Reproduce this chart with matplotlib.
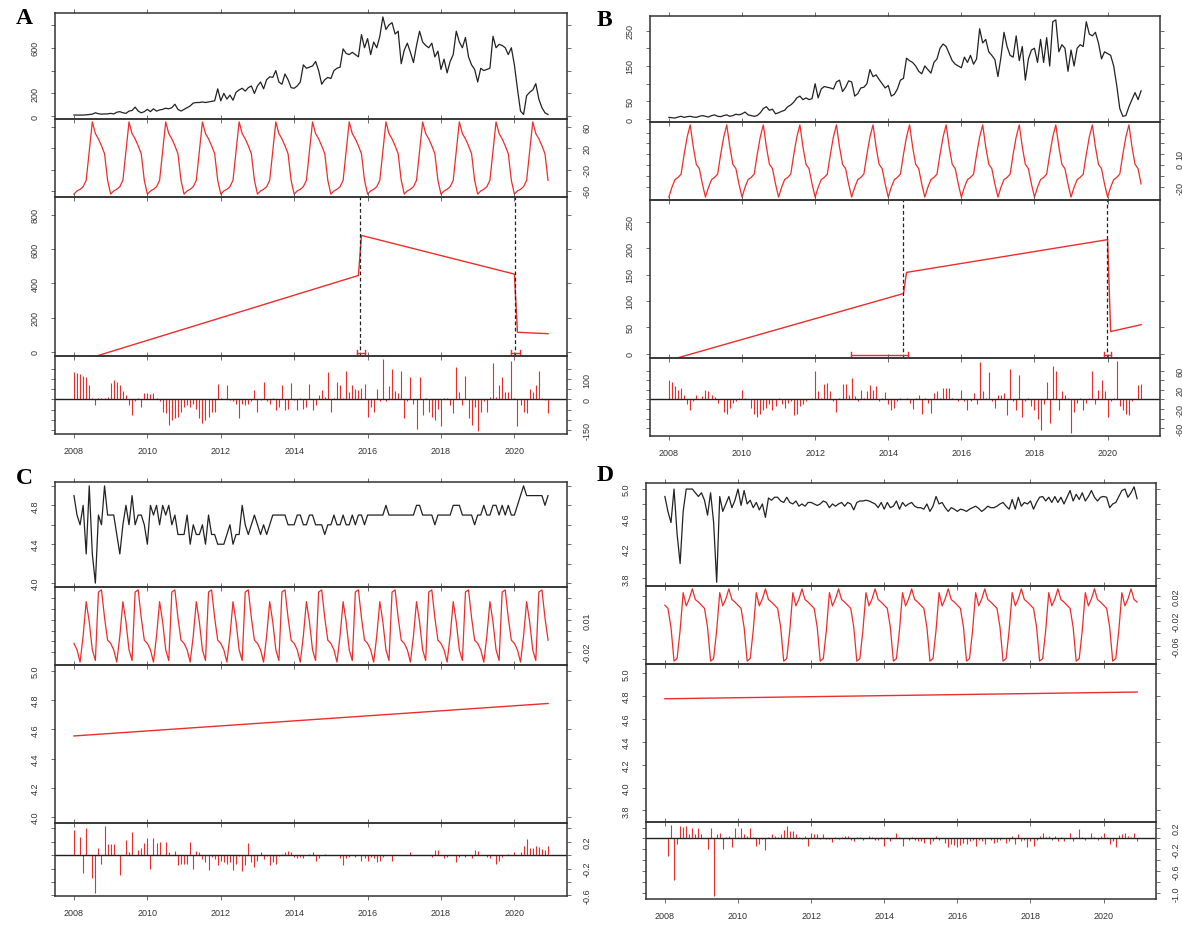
import numpy as np
import matplotlib.pyplot as plt

W, H = 1182, 929
RED = '#EE2C2C'
INK = '#222222'

months = np.arange(156)
t = 2008 + months / 12.0
years = [2008, 2010, 2012, 2014, 2016, 2018, 2020]

# ---------------- panel A ----------------
a_data = [10, 10, 10, 10, 12, 15, 18, 30, 22, 18, 20, 20,
          25, 20, 35, 40, 30, 25, 45, 50, 80, 45, 30, 40,
          60, 40, 65, 45, 55, 60, 70, 65, 75, 105, 60, 45,
          60, 75, 90, 115, 120, 120, 125, 120, 125, 130, 135, 240,
          135, 200, 150, 185, 140, 210, 230, 245, 220, 250, 265, 200,
          265, 300, 240, 320, 345, 340, 400, 300, 280, 370, 320, 250,
          245, 265, 300, 450, 420, 430, 440, 480, 400, 280, 320, 340,
          330, 400, 420, 430, 590, 550, 540, 560, 540, 520, 715, 600,
          680, 540, 650, 600, 700, 870, 760, 800, 820, 720, 745, 460,
          580, 640, 560, 470, 620, 745, 650, 620, 600, 640, 520, 570,
          410, 500, 380, 480, 540, 745, 650, 600, 690, 520, 450, 410,
          300, 420, 400, 410, 420, 700, 600, 630, 620, 600, 540, 600,
          450, 240, 45, 15, 180, 210, 230, 285, 150, 75, 30, 15]
a_season = [-66, -60, -57, -52, -40, 15, 70, 48, 38, 25, 10, -40]
a_trend_t = [2008.0, 2015.75, 2015.833, 2020.0, 2020.083, 2020.917]
a_trend_v = [-65, 446, 680, 454, 114, 106]
a_resid = [137, 130, 125, 118, 110, 70, 5, -27, 5, 8, 5, 10,
           80, 95, 85, 70, 40, 20, -27, -75, -10, 5, -35, 30,
           30, 25, 32, 5, -10, -60, -68, -125, -100, -92, -85, -60,
           -35, -27, -35, -20, -45, -92, -115, -100, -85, -60, -60, 78,
           5, 0, 70, -3, -10, -20, -92, -20, -27, -20, -10, 45,
           -60, -3, 85, -10, -20, 5, -50, -35, 70, -50, -45, 82,
           -3, -50, 5, -45, -35, 77, -50, -27, 20, 45, 12, 134,
           -60, 5, 85, 70, 5, 140, 35, 70, 50, 45, 55, 77,
           -85, -35, -60, 53, -10, 200, -10, 66, 150, 40, 30, 142,
           -92, -10, 110, -20, -148, 110, -75, 5, -60, -85, -100, -45,
           -130, 5, 5, -27, -68, 158, 37, -27, 118, -92, -125, -35,
           -156, -60, -10, -60, 13, 180, 13, 70, 110, 37, 37, 190,
           5, -132, -27, -60, -68, 53, 37, 70, 142, 5, -3, -68]
a_breaks = [2015.80, 2020.02]
a_ci = [(2015.70, 2015.94), (2019.92, 2020.15)]

# ---------------- panel B ----------------
b_data = [5, 4, 3, 6, 8, 5, 7, 8, 6, 5, 8, 10,
          8, 6, 10, 12, 8, 7, 10, 12, 8, 10, 14, 12,
          15, 20, 12, 10, 8, 10, 18, 30, 35, 25, 28, 15,
          18, 22, 25, 35, 40, 48, 60, 65, 55, 60, 55, 58,
          100, 60, 85, 92, 90, 88, 85, 105, 110, 78, 90, 108,
          105, 65, 72, 88, 90, 100, 140, 120, 125, 112, 100, 88,
          95, 65, 70, 85, 110, 115, 172, 165, 160, 150, 135, 128,
          150, 140, 130, 160, 170, 200, 212, 205, 185, 165, 155, 150,
          145, 175, 160, 180, 155, 170, 255, 215, 225, 190, 180, 168,
          120, 175, 245, 205, 180, 175, 235, 165, 205, 110, 170, 195,
          200, 160, 225, 160, 230, 150, 275, 280, 190, 210, 200, 135,
          195, 150, 200, 210, 205, 275, 240, 235, 245, 215, 170, 190,
          185, 180, 150, 95, 30, 8, 10, 35, 55, 75, 55, 80]
b_season = [-29, -20, -13, -11, -8, 10, 26, 37, 17, 1, -3, -17]
b_trend_t = [2008.0, 2014.417, 2014.5, 2020.0, 2020.083, 2020.917]
b_trend_v = [-12.5, 114, 154, 216, 42, 55]
b_resid = [40, 37, 27, 20, 23, 10, -10, -23, -3, 10, 0, 7,
           20, 18, 10, 5, -7, 0, -27, -30, -17, -7, -3, 3,
           20, 3, 0, -17, -30, -37, -30, -23, -17, -10, -23, -13,
           3, -10, -17, -7, -3, -33, -30, -13, -10, -3, 0, 3,
           60, 17, 3, 33, 35, 17, -3, -27, 3, 33, 33, 10,
           45, 7, -3, 20, 3, 17, 30, 20, 27, -3, 3, 15,
           -10, -23, -17, -3, 3, 0, 3, -7, -20, 3, 10, -30,
           3, -7, -29, 13, 17, 3, 23, 23, 23, 3, 0, -3,
           20, -3, -23, -3, 13, -10, 77, 18, 3, 57, -3, -17,
           10, 10, 13, -33, 64, -3, -23, 50, -37, -3, 3, -13,
           -23, -40, -64, -10, 37, -50, 70, 60, -23, 17, 10, 3,
           -70, -27, -7, 3, -23, -7, 3, 60, -10, 20, 40, 17,
           -37, -3, 3, 80, -13, -23, -30, -33, -3, 0, 30, 33]
b_breaks = [2014.40, 2019.97]
b_ci = [(2012.97, 2014.54), (2019.89, 2020.10)]

# ---------------- panel C ----------------
c_data = [4.9, 4.7, 4.6, 4.8, 4.3, 5.0, 4.3, 4.0, 4.7, 4.6, 5.0, 4.7,
          4.7, 4.7, 4.5, 4.3, 4.6, 4.8, 4.6, 4.9, 4.6, 4.7, 4.7, 4.6,
          4.4, 4.8, 4.7, 4.8, 4.6, 4.8, 4.7, 4.8, 4.6, 4.7, 4.5, 4.5,
          4.5, 4.7, 4.4, 4.6, 4.5, 4.5, 4.6, 4.4, 4.7, 4.5, 4.5, 4.4,
          4.4, 4.4, 4.5, 4.6, 4.4, 4.5, 4.5, 4.8, 4.6, 4.5, 4.6, 4.7,
          4.6, 4.5, 4.6, 4.5, 4.6, 4.7, 4.7, 4.7, 4.7, 4.7, 4.6, 4.6,
          4.6, 4.7, 4.7, 4.6, 4.6, 4.7, 4.7, 4.6, 4.6, 4.6, 4.5, 4.6,
          4.6, 4.7, 4.6, 4.6, 4.7, 4.6, 4.6, 4.7, 4.6, 4.7, 4.7, 4.6,
          4.7, 4.7, 4.7, 4.7, 4.7, 4.7, 4.8, 4.7, 4.7, 4.7, 4.7, 4.7,
          4.7, 4.7, 4.7, 4.7, 4.8, 4.8, 4.7, 4.7, 4.7, 4.7, 4.6, 4.7,
          4.7, 4.7, 4.7, 4.7, 4.8, 4.8, 4.8, 4.7, 4.7, 4.7, 4.7, 4.6,
          4.7, 4.7, 4.8, 4.7, 4.7, 4.8, 4.8, 4.7, 4.8, 4.7, 4.8, 4.7,
          4.7, 4.8, 4.9, 5.0, 4.9, 4.9, 4.9, 4.9, 4.9, 4.9, 4.8, 4.9]
c_season = [-0.012, -0.018, -0.0295, -0.005, 0.027, 0.008,
            -0.018, -0.028, 0.036, 0.038, 0.012, -0.009]
c_trend_t = [2008.0, 2020.917]
c_trend_v = [4.555, 4.777]
c_resid = [0.37, 0.0, 0.27, -0.27, 0.41, 0.0, -0.34, -0.57, 0.11, -0.13, 0.44, 0.16,
           0.16, 0.16, 0.0, -0.29, 0.0, 0.23, 0.04, 0.34, 0.0, 0.08, 0.1, 0.18,
           0.25, -0.2, 0.25, 0.18, 0.2, 0.0, 0.2, 0.04, 0.0, 0.06, -0.15, -0.13,
           -0.13, -0.13, 0.2, -0.2, 0.06, 0.04, -0.06, -0.1, -0.22, -0.03, -0.06, -0.15,
           -0.08, -0.1, -0.13, -0.1, -0.22, -0.13, -0.01, -0.24, -0.15, 0.18, -0.1, -0.17,
           -0.08, 0.04, -0.06, -0.01, -0.15, -0.1, -0.13, -0.01, 0.01, 0.04, 0.06, 0.04,
           -0.03, -0.05, -0.03, -0.05, 0.0, 0.02, 0.04, -0.08, -0.05, 0.0, 0.01, 0.0,
           0.0, 0.0, 0.0, -0.05, -0.15, -0.05, -0.03, 0.0, -0.03, 0.0, -0.08, -0.05,
           -0.08, -0.03, -0.05, -0.1, -0.08, -0.03, 0.0, 0.0, -0.08, 0.0, 0.0, 0.0,
           0.0, 0.0, 0.04, 0.0, 0.0, 0.0, 0.0, 0.0, 0.0, -0.03, 0.08, 0.08,
           0.0, -0.05, -0.03, 0.0, 0.0, -0.1, -0.03, 0.0, -0.03, 0.0, -0.05, 0.08,
           0.06, 0.0, 0.0, -0.03, -0.05, 0.0, -0.13, -0.08, -0.03, 0.0, 0.02, 0.0,
           0.04, 0.0, 0.04, 0.13, 0.24, 0.11, 0.11, 0.13, 0.12, 0.09, 0.08, 0.13]

# ---------------- panel D ----------------
d_data = [4.9, 4.7, 4.55, 5.0, 4.4, 4.0, 4.7, 5.0, 5.0, 5.0, 4.95, 4.9,
          4.95, 4.85, 4.65, 4.95, 4.55, 3.75, 4.9, 4.7, 4.8, 4.9, 4.75, 4.85,
          5.0, 4.78, 4.98, 4.8, 4.85, 4.75, 4.82, 4.72, 4.8, 4.62, 4.88, 4.85,
          4.89, 4.89, 4.84, 4.82, 4.89, 4.82, 4.8, 4.84, 4.77, 4.8, 4.77, 4.82,
          4.82, 4.8, 4.78, 4.8, 4.84, 4.82, 4.75, 4.8, 4.77, 4.8, 4.82, 4.77,
          4.82, 4.8, 4.72, 4.82, 4.84, 4.84, 4.85, 4.84, 4.82, 4.8, 4.75, 4.82,
          4.73, 4.82, 4.75, 4.77, 4.84, 4.73, 4.82, 4.77, 4.8, 4.82, 4.77, 4.75,
          4.75, 4.73, 4.8, 4.7, 4.77, 4.9, 4.8, 4.82, 4.75, 4.7, 4.75, 4.73,
          4.7, 4.73, 4.72, 4.7, 4.73, 4.75, 4.77, 4.74, 4.7, 4.73, 4.77, 4.75,
          4.75, 4.77, 4.8, 4.82, 4.77, 4.73, 4.86, 4.73, 4.89, 4.77, 4.82, 4.8,
          4.84, 4.73, 4.82, 4.89, 4.9, 4.84, 4.89, 4.82, 4.9, 4.82, 4.89, 4.8,
          4.89, 4.98, 4.84, 4.93, 4.86, 4.95, 4.84, 4.9, 4.98, 4.89, 4.84, 4.89,
          4.9, 4.89, 4.75, 4.8, 4.82, 4.9, 4.98, 5.0, 4.89, 4.95, 5.03, 4.87]
d_season = [0.005, 0.0, -0.03, -0.084, -0.08, -0.035,
            0.025, 0.004, 0.015, 0.031, 0.014, 0.01]
d_trend_t = [2008.0, 2020.917]
d_trend_v = [4.777, 4.836]
d_resid = [0.0, -0.32, 0.25, -0.77, -0.1, 0.22, 0.21, 0.22, 0.08, 0.2, 0.08, 0.2,
           0.08, 0.0, -0.19, 0.2, -1.06, 0.08, 0.1, -0.19, 0.02, 0.05, -0.16, 0.2,
           0.02, 0.2, 0.08, 0.05, 0.2, 0.02, -0.13, -0.1, -0.01, -0.22, 0.02, 0.08,
           0.05, 0.02, 0.08, 0.15, 0.22, 0.14, 0.14, 0.08, 0.02, -0.01, 0.05, -0.13,
           0.1, 0.08, 0.08, -0.01, 0.08, -0.01, -0.01, -0.07, 0.02, -0.01, 0.02, 0.05,
           0.05, -0.03, -0.05, 0.02, 0.03, -0.02, 0.0, 0.05, 0.03, -0.02, -0.03, 0.02,
           -0.13, 0.02, -0.04, 0.0, 0.1, 0.03, -0.13, 0.0, -0.02, 0.02, -0.03, -0.05,
           -0.05, -0.08, 0.0, -0.1, -0.05, 0.05, -0.03, 0.0, -0.08, -0.15, -0.1, -0.12,
           -0.15, -0.12, -0.08, -0.1, -0.05, -0.02, -0.13, -0.02, -0.05, -0.1, 0.0, -0.03,
           -0.08, -0.06, -0.03, 0.0, -0.08, -0.04, 0.05, -0.1, 0.08, -0.05, -0.03, -0.16,
           -0.05, -0.13, -0.02, 0.05, 0.1, 0.02, 0.05, -0.03, 0.05, -0.05, 0.02, -0.05,
           0.0, 0.1, -0.04, 0.03, 0.17, 0.02, -0.03, 0.0, 0.1, 0.02, -0.03, 0.05,
           0.1, 0.03, -0.1, -0.05, -0.16, 0.06, 0.08, 0.1, 0.05, 0.03, 0.1, -0.05]

panels = [
    dict(letter='A', letter_xy=(16, 8), x=(55, 567), y=(14, 120, 198, 357, 435),
         data=a_data, season=a_season, trend=(a_trend_t, a_trend_v), resid=a_resid,
         breaks=a_breaks, ci=a_ci,
         yt=([0, 200, 400, 600, 800], ['0', '200', '', '600', '']),
         st=([-60, -20, 20, 60], ['-60', '-20', '20', '60']),
         tt=([0, 200, 400, 600, 800], ['0', '200', '400', '600', '800']),
         et=([-150, -100, -50, 0, 50, 100, 150], ['-150', '', '', '0', '', '100', ''])),
    dict(letter='B', letter_xy=(597, 10), x=(650, 1160), y=(17, 123, 201, 359, 437),
         data=b_data, season=b_season, trend=(b_trend_t, b_trend_v), resid=b_resid,
         breaks=b_breaks, ci=b_ci,
         yt=([0, 50, 100, 150, 200, 250], ['0', '50', '', '150', '', '250']),
         st=([-20, -10, 0, 10, 20, 30], ['-20', '', '0', '10', '', '']),
         tt=([0, 50, 100, 150, 200, 250], ['0', '50', '100', '150', '200', '250']),
         et=([-60, -40, -20, 0, 20, 40, 60], ['-60', '', '-20', '', '20', '', '60'])),
    dict(letter='C', letter_xy=(16, 468), x=(55, 567), y=(483, 588, 666, 824, 897),
         data=c_data, season=c_season, trend=(c_trend_t, c_trend_v), resid=c_resid,
         breaks=[], ci=[],
         yt=([4.0, 4.2, 4.4, 4.6, 4.8, 5.0], ['4.0', '', '4.4', '', '4.8', '']),
         st=([-0.02, -0.01, 0.0, 0.01, 0.02, 0.03], ['-0.02', '', '', '0.01', '', '']),
         tt=([4.0, 4.2, 4.4, 4.6, 4.8, 5.0], ['4.0', '4.2', '4.4', '4.6', '4.8', '5.0']),
         et=([-0.6, -0.4, -0.2, 0.0, 0.2, 0.4], ['-0.6', '', '-0.2', '', '0.2', ''])),
    dict(letter='D', letter_xy=(597, 465), x=(646, 1156), y=(484, 587, 665, 823, 900),
         data=d_data, season=d_season, trend=(d_trend_t, d_trend_v), resid=d_resid,
         breaks=[], ci=[],
         yt=([3.8, 4.0, 4.2, 4.4, 4.6, 4.8, 5.0], ['3.8', '', '4.2', '', '4.6', '', '5.0']),
         st=([-0.08, -0.06, -0.04, -0.02, 0.0, 0.02], ['', '-0.06', '', '-0.02', '', '0.02']),
         tt=([3.8, 4.0, 4.2, 4.4, 4.6, 4.8, 5.0], ['3.8', '4.0', '4.2', '4.4', '4.6', '4.8', '5.0']),
         et=([-1.0, -0.8, -0.6, -0.4, -0.2, 0.0, 0.2], ['-1.0', '', '-0.6', '', '-0.2', '', '0.2'])),
]

plt.rcParams['font.family'] = ['Liberation Sans', 'DejaVu Sans']
fig = plt.figure(figsize=(W / 100, H / 100), dpi=100)
fig.patch.set_facecolor('white')

XLIM = (2008 - 0.04 * 155 / 12, 2008 + 155 / 12 + 0.04 * 155 / 12)


def px_rect(x0, x1, y0, y1):
    return [x0 / W, 1 - y1 / H, (x1 - x0) / W, (y1 - y0) / H]


def r_range(vals):
    lo, hi = float(np.min(vals)), float(np.max(vals))
    pad = 0.04 * (hi - lo)
    return lo - pad, hi + pad


def style(ax, side, ticks, labels, xlabels=False):
    ax.set_facecolor('none')
    for s in ax.spines.values():
        s.set_linewidth(1.1)
        s.set_color('#333333')
    ax.set_xlim(XLIM)
    ax.set_xticks(years)
    ax.set_xticklabels([str(y) for y in years])
    ax.set_yticks(ticks)
    ax.set_yticklabels(labels, rotation=90, va='center')
    ax.tick_params(axis='both', direction='out', length=3, width=0.6,
                   color='#555555', labelsize=6.5, labelcolor='#333333')
    ax.tick_params(axis='y', left=True, right=True, pad=8,
                   labelleft=(side == 'left'), labelright=(side == 'right'))
    ax.tick_params(axis='x', top=True, bottom=True, pad=6,
                   labeltop=False, labelbottom=xlabels)


for p in panels:
    x0, x1 = p['x']
    ys = p['y']
    data = np.array(p['data'], dtype=float)
    season = np.tile(p['season'], 13)
    resid = np.array(p['resid'], dtype=float)

    ax_y = fig.add_axes(px_rect(x0, x1, ys[0], ys[1]))
    ax_s = fig.add_axes(px_rect(x0, x1, ys[1], ys[2]))
    ax_t = fig.add_axes(px_rect(x0, x1, ys[2], ys[3]))
    ax_e = fig.add_axes(px_rect(x0, x1, ys[3], ys[4]))

    ylim = r_range(data)

    ax_y.plot(t, data, color=INK, lw=0.9)
    ax_y.set_ylim(ylim)
    style(ax_y, 'left', *p['yt'])

    ax_s.plot(t, season, color=RED, lw=0.9)
    ax_s.set_ylim(r_range(season))
    style(ax_s, 'right', *p['st'])

    tt, tv = p['trend']
    ax_t.plot(tt, tv, color=RED, lw=1.0)
    ax_t.set_ylim(ylim)
    for b in p['breaks']:
        ax_t.axvline(b, color=INK, lw=0.9, ls=(0, (3, 2)))
    yc = ylim[0] + 0.02 * (ylim[1] - ylim[0])
    cap = 0.02 * (ylim[1] - ylim[0])
    for lo, hi in p['ci']:
        ax_t.plot([lo, hi], [yc, yc], color=RED, lw=1.0)
        ax_t.plot([lo, lo], [yc - cap, yc + cap], color=RED, lw=1.0)
        ax_t.plot([hi, hi], [yc - cap, yc + cap], color=RED, lw=1.0)
    style(ax_t, 'left', *p['tt'])

    ax_e.vlines(t, 0, resid, color=RED, lw=0.8)
    ax_e.axhline(0, color=INK, lw=1.0)
    ax_e.set_ylim(r_range(resid))
    style(ax_e, 'right', *p['et'], xlabels=True)

    lx, ly = p['letter_xy']
    fig.text(lx / W, 1 - ly / H, p['letter'], fontfamily='Liberation Serif',
             fontweight='bold', fontsize=17, ha='left', va='top')

fig.savefig('out.png', dpi=100)
